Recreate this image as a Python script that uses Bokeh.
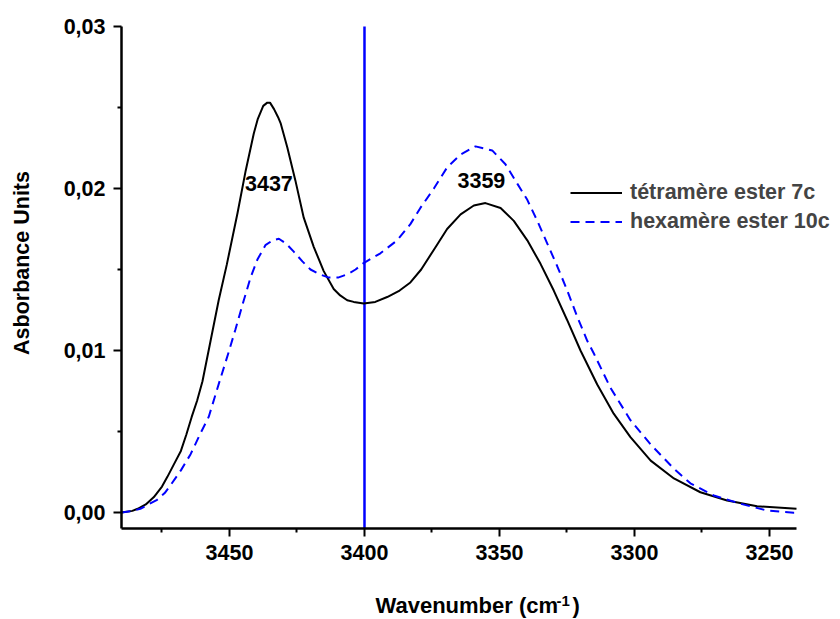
import math
from bokeh.plotting import figure
from bokeh.models import (Range1d, FixedTicker, CustomJSTickFormatter, Label,
                          Legend, LegendItem, ColumnDataSource)
from bokeh.core.properties import value
from bokeh.embed import file_html
from bokeh.resources import INLINE

# ---- data ----
wn_tetra = [3490, 3486, 3484, 3481, 3478, 3475, 3473, 3470.5, 3468, 3466, 3464, 3462, 3460,
            3457, 3454, 3451, 3447, 3444, 3441, 3439.5, 3437.5, 3436, 3435, 3433.5, 3432,
            3431, 3428.6, 3425.6, 3422.5, 3418.8, 3415.1, 3411.4, 3409, 3406.4, 3404,
            3400.3, 3396, 3391.6, 3387, 3383, 3379, 3374, 3369.4, 3364.4, 3359.5, 3355.2,
            3349.6, 3344.7, 3339.7, 3334.8, 3329.9, 3325, 3320, 3313.8, 3307.7, 3301.5,
            3294, 3285.4, 3275.6, 3265.7, 3254.6, 3240]
abs_tetra = [0.0000, 0.0001, 0.00023, 0.0005, 0.00095, 0.0016, 0.0022, 0.0030, 0.0038,
             0.0048, 0.0059, 0.0069, 0.0081, 0.0106, 0.0131, 0.0153, 0.0185, 0.0211, 0.0234,
             0.0243, 0.0251, 0.0253, 0.0253, 0.0249, 0.0244, 0.0240, 0.02255, 0.0205,
             0.0182, 0.0164, 0.0149, 0.0138, 0.0134, 0.0131, 0.0130, 0.0129, 0.0130,
             0.0133, 0.0137, 0.0142, 0.0150, 0.0163, 0.0175, 0.0184, 0.01895, 0.0191,
             0.0188, 0.0180, 0.0168, 0.01535, 0.0137, 0.0119, 0.0100, 0.0079, 0.0061,
             0.00465, 0.0032, 0.0021, 0.00125, 0.00074, 0.00039, 0.00023]

wn_hexa = [3490, 3486, 3483, 3480, 3476.8, 3474, 3471.9, 3468, 3464.4, 3460.7, 3457.7,
           3455.5, 3453.3, 3450.3, 3447.8, 3444.7, 3442.2, 3439.7, 3436.7, 3434, 3431.7,
           3429, 3426.2, 3423, 3420, 3416.5, 3413.2, 3409.8, 3406.4, 3403.3, 3400.3,
           3394.1, 3387.9, 3383, 3379.3, 3374.3, 3369.4, 3364.4, 3358.9, 3352.7, 3347.8,
           3343.4, 3339.7, 3336, 3332.3, 3328.6, 3324.9, 3321, 3317.5, 3315, 3308.9,
           3301.5, 3294, 3285.4, 3279.3, 3270.6, 3260.7, 3250.9, 3241, 3240]
abs_hexa = [0.0000, 0.0001, 0.00023, 0.0005, 0.00078, 0.0012, 0.00167, 0.0026, 0.0036,
            0.0049, 0.0059, 0.0071, 0.0083, 0.0099, 0.0113, 0.0131, 0.0145, 0.0156, 0.0165,
            0.0168, 0.0169, 0.0166, 0.0161, 0.0155, 0.0150, 0.0147, 0.0145, 0.0145, 0.0147,
            0.0150, 0.0154, 0.0160, 0.0168, 0.0178, 0.0188, 0.0200, 0.0213, 0.0221, 0.0226,
            0.02235, 0.0215, 0.0203, 0.0193, 0.0180, 0.0166, 0.0152, 0.0137, 0.0120, 0.0106,
            0.0098, 0.0077, 0.0057, 0.0042, 0.0027, 0.0018, 0.00105, 0.00054, 0.00012,
            -0.00002, -0.00002]

series_names = ["tétramère ester 7c", "hexamère ester 10c"]
peak_labels = ["3437", "3359"]
peak_x = [3435.4, 3356.7]
peak_y = [0.0203, 0.0205]
marker_wn = 3400

x_ticks = [3450, 3400, 3350, 3300, 3250]
x_minor = [3475, 3425, 3375, 3325, 3275]
x_bounds = (3240, 3490)
y_ticks = [0.0, 0.01, 0.02, 0.03]
y_minor = [0.005, 0.015, 0.025]
y_bounds = (-0.001, 0.03)

FONT = "Liberation Sans"
FS = "21.5px"
BLUE = "#0000ff"

W, H = 840, 619
p = figure(width=W, height=H, output_backend="svg", toolbar_location=None,
           x_range=Range1d(3534.81, 3223.70), y_range=Range1d(-0.0066049, 0.0316049),
           min_border_left=0, min_border_right=0, min_border_top=0, min_border_bottom=0)
p.outline_line_color = None
p.xgrid.visible = False
p.ygrid.visible = False
p.background_fill_color = "white"
p.border_fill_color = "white"

for ax in (p.xaxis[0], p.yaxis[0]):
    ax.axis_line_width = 2.5
    ax.axis_line_color = "black"
    ax.major_tick_line_width = 2
    ax.minor_tick_line_width = 2
    ax.major_tick_out = 8
    ax.major_tick_in = 0
    ax.minor_tick_out = 4
    ax.minor_tick_in = 0
    ax.major_label_text_font = FONT
    ax.major_label_text_font_style = "bold"
    ax.major_label_text_font_size = FS
    ax.major_label_text_color = "black"
    ax.major_label_standoff = 8

p.xaxis.fixed_location = y_bounds[0]
p.yaxis.fixed_location = x_bounds[1]
p.xaxis.bounds = x_bounds
p.yaxis.bounds = y_bounds
p.xaxis.ticker = FixedTicker(ticks=x_ticks, minor_ticks=x_minor)
p.yaxis.ticker = FixedTicker(ticks=y_ticks, minor_ticks=y_minor)
p.yaxis.formatter = CustomJSTickFormatter(code="return tick.toFixed(2).replace('.', ',');")

# vertical marker line, spanning the axis bounds
p.segment(x0=[marker_wn], y0=[y_bounds[0]], x1=[marker_wn], y1=[y_bounds[1]],
          line_color=BLUE, line_width=2.5)

r1 = p.line(wn_tetra, abs_tetra, line_color="black", line_width=2)
r2 = p.line(wn_hexa, abs_hexa, line_color=BLUE, line_width=2, line_dash="9 6")

src = ColumnDataSource(dict(x=peak_x, y=peak_y, t=peak_labels))
p.text(x="x", y="y", text="t", source=src, text_align="center", text_baseline="middle",
       text_font=value(FONT), text_font_style="bold", text_font_size=FS,
       text_color="black")

legend = Legend(items=[LegendItem(label=series_names[0], renderers=[r1]),
                       LegendItem(label=series_names[1], renderers=[r2])],
                location=(570, H - 233.5), orientation="vertical",
                glyph_width=52, glyph_height=25, label_height=25, label_standoff=8,
                spacing=4, padding=0, margin=0,
                label_text_font=FONT, label_text_font_style="bold",
                label_text_font_size=FS,
                border_line_color=None, background_fill_alpha=0)
p.add_layout(legend, "center")

lbl = dict(x_units="screen", y_units="screen", text_font=FONT, text_font_style="bold",
           text_color="black")
# y axis title
p.add_layout(Label(x=21, y=H - 262.5, text="Asborbance Units", angle=math.pi / 2,
                   text_align="center", text_baseline="middle", text_font_size=FS, **lbl))
# x axis title with superscript
p.add_layout(Label(x=375, y=H - 605, text="Wavenumber (cm", text_align="left",
                   text_baseline="alphabetic", text_font_size="22px", **lbl))
p.add_layout(Label(x=556, y=H - 600, text="-1", text_align="left",
                   text_baseline="alphabetic", text_font_size="15px", **lbl))
p.add_layout(Label(x=572, y=H - 605, text=")", text_align="left",
                   text_baseline="alphabetic", text_font_size="22px", **lbl))

open("out.html", "w").write(file_html(p, INLINE))
